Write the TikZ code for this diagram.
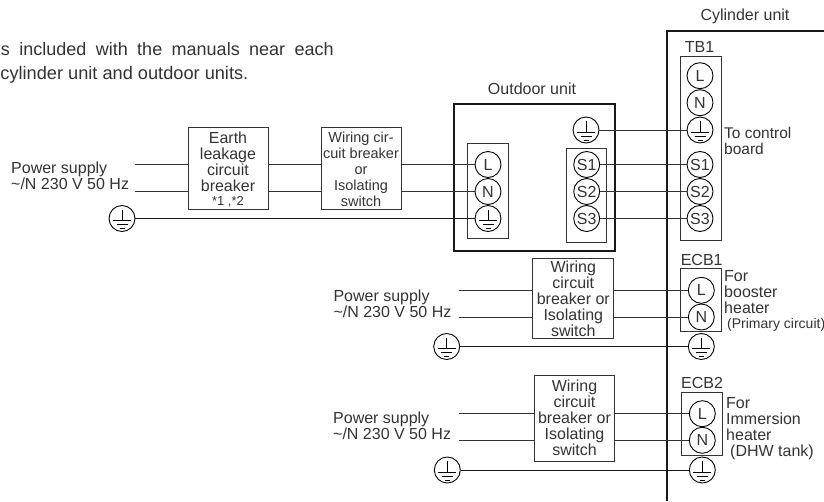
\documentclass[tikz,border=0pt]{standalone}
\usepackage{fontspec}
\setmainfont{Liberation Sans}
\newcommand{\txtsize}[1]{\fontsize{#1}{16}\selectfont}
\definecolor{ink}{HTML}{333333}
\tikzset{
  wire/.style={draw=ink,line width=.9pt},
  gndwire/.style={draw=black!90,line width=.9pt},
  frame/.style={draw=ink,line width=1pt,inner sep=0pt,align=center,text=ink},
  outer/.style={draw=black!90,line width=1.2pt,inner sep=0pt},
  lbl/.style={anchor=base west,inner sep=0pt,align=left,text=ink,font=\txtsize{16}},
  term/.style={circle,draw=black,line width=.9pt,minimum size=26pt,inner sep=0pt,text=ink,font=\txtsize{16}},
  earth/.style={term,path picture={
    \draw[black,line width=.8pt] (path picture bounding box.center) +(0,-9) -- +(0,2) +(-9,2) -- +(9,2)
      +(-5.5,6) -- +(5.5,6) +(-2.5,10) -- +(2.5,10);
  }},
}
\begin{document}
\begin{tikzpicture}[x=1pt,y=-1pt]
\useasboundingbox (0,0) rectangle (824,501);

\node[lbl,anchor=base east,font=\txtsize{18}] (note1) at (334,55) {\hbox to 333pt{s\hfill included\hfill with\hfill the\hfill manuals\hfill near\hfill each}};
\node[lbl,anchor=base east,font=\txtsize{18.2}] (note2) at (248.5,79) {cylinder unit and outdoor units.};

\draw[outer] (667,501) -- (667,31) -- (824,31);
\node[outer,minimum width=161pt,minimum height=147pt] (outdoor) at (534.5,177.5) {};
\node[frame,minimum width=41pt,minimum height=95pt] (acbox) at (487.5,190.5) {};
\node[frame,minimum width=40pt,minimum height=94pt] (sbox) at (586,195) {};
\node[frame,minimum width=41pt,minimum height=184pt] (tbbox) at (700.5,148) {};
\node[frame,minimum width=41pt,minimum height=63pt] (ecbbox1) at (700.8,300.3) {};
\node[frame,minimum width=41pt,minimum height=63pt] (ecbbox2) at (701.8,423.6) {};

\node[frame,font=\txtsize{16},minimum width=80pt,minimum height=82pt] (elcb) at (228,168) {\rule{0pt}{15pt}Earth\\leakage\\circuit\\breaker\\[-2pt]{\txtsize{13}*1 ,*2}};
\node[frame,font=\txtsize{14.5},minimum width=80pt,minimum height=82pt] (sw0) at (361,168) {\rule{0pt}{12.5pt}Wiring cir-\\cuit breaker\\or\\Isolating\\switch};
\node[frame,font=\txtsize{16},minimum width=81pt,minimum height=80pt] (sw1) at (573.3,298.3) {Wiring\\circuit\\breaker or\\Isolating\\switch};
\node[frame,font=\txtsize{16},minimum width=80pt,minimum height=86pt] (sw2) at (574.5,418) {Wiring\\circuit\\breaker or\\Isolating\\switch};

\foreach \n/\t/\y in {oL/L/164.5,oN/N/191.5} {
  \node[term] (\n) at (488,\y) {\t};
}
\foreach \n/\t/\y in {oSa/S1/164.5,oSb/S2/191.5,oSc/S3/218.5} {
  \node[term] (\n) at (586.7,\y) {\t};
}
\foreach \n/\t/\y in {tL/L/75.7,tN/N/102.7,tSa/S1/164.5,tSb/S2/191.5,tSc/S3/218.5} {
  \node[term] (\n) at (700,\y) {\t};
}
\foreach \n/\t/\x/\y in {aL/L/701.3/290.3,aN/N/701.3/317,bL/L/702.3/413.7,bN/N/702.3/440.3} {
  \node[term] (\n) at (\x,\y) {\t};
}
\foreach \n/\x/\y in {oE/488/218.5,oG/586/130,tE/700/130,gnd0/122/218.5,gnd1/446.7/346.5,aE/701.3/346.5,gnd2/447.3/470,bE/702.3/470} {
  \node[earth] (\n) at (\x,\y) {};
}

\coordinate (p0L) at (134.5,164.5);
\coordinate (p0N) at (134.5,191.5);
\coordinate (p1L) at (458.7,290.3);
\coordinate (p1N) at (458.7,317);
\coordinate (p2L) at (459,413.7);
\coordinate (p2N) at (459,440.3);

\foreach \s in {L,N} {
  \draw[wire] (p0\s) -- (elcb.west |- p0\s);
  \draw[wire] (elcb.east |- p0\s) -- (sw0.west |- p0\s);
  \draw[wire] (sw0.east |- p0\s) -- (o\s);
  \draw[wire] (p1\s) -- (sw1.west |- p1\s);
  \draw[wire] (sw1.east |- p1\s) -- (a\s);
  \draw[wire] (p2\s) -- (sw2.west |- p2\s);
  \draw[wire] (sw2.east |- p2\s) -- (b\s);
}
\foreach \s in {a,b,c} {
  \draw[wire] (oS\s) -- (tS\s);
}
\draw[wire] (oG) -- (tE);
\draw[gndwire] (gnd0) -- (oE);
\draw[gndwire] (gnd1) -- (aE);
\draw[gndwire] (gnd2) -- (bE);

\node[lbl] (pwr0) at (11,189) {Power supply\\\textasciitilde/N 230 V 50 Hz};
\node[lbl] (pwr1) at (333.3,317) {Power supply\\\textasciitilde/N 230 V 50 Hz};
\node[lbl] (pwr2) at (333,439) {Power supply\\\textasciitilde/N 230 V 50 Hz};

\node[lbl,anchor=base] (outdoorlbl) at (532,94) {Outdoor unit};
\node[lbl,anchor=base] (cyllbl) at (745,20.6) {Cylinder unit};
\node[lbl,anchor=base] (tblbl) at (699.5,52.7) {TB1};
\node[lbl,anchor=base] (ecblbl1) at (701.7,265.7) {ECB1};
\node[lbl,anchor=base] (ecblbl2) at (702,388) {ECB2};
\node[lbl,font=\txtsize{15.5}] (ctrl) at (724,154) {To control\\board};
\node[lbl] (for1) at (724,313.3) {For\\booster\\heater};
\node[lbl,font=\txtsize{14}] (prim) at (727,328) {(Primary circuit)};
\node[lbl] (for2) at (726,440) {For\\Immersion\\heater};
\node[lbl] (dhw) at (730,456) {(DHW tank)};
\end{tikzpicture}
\end{document}
